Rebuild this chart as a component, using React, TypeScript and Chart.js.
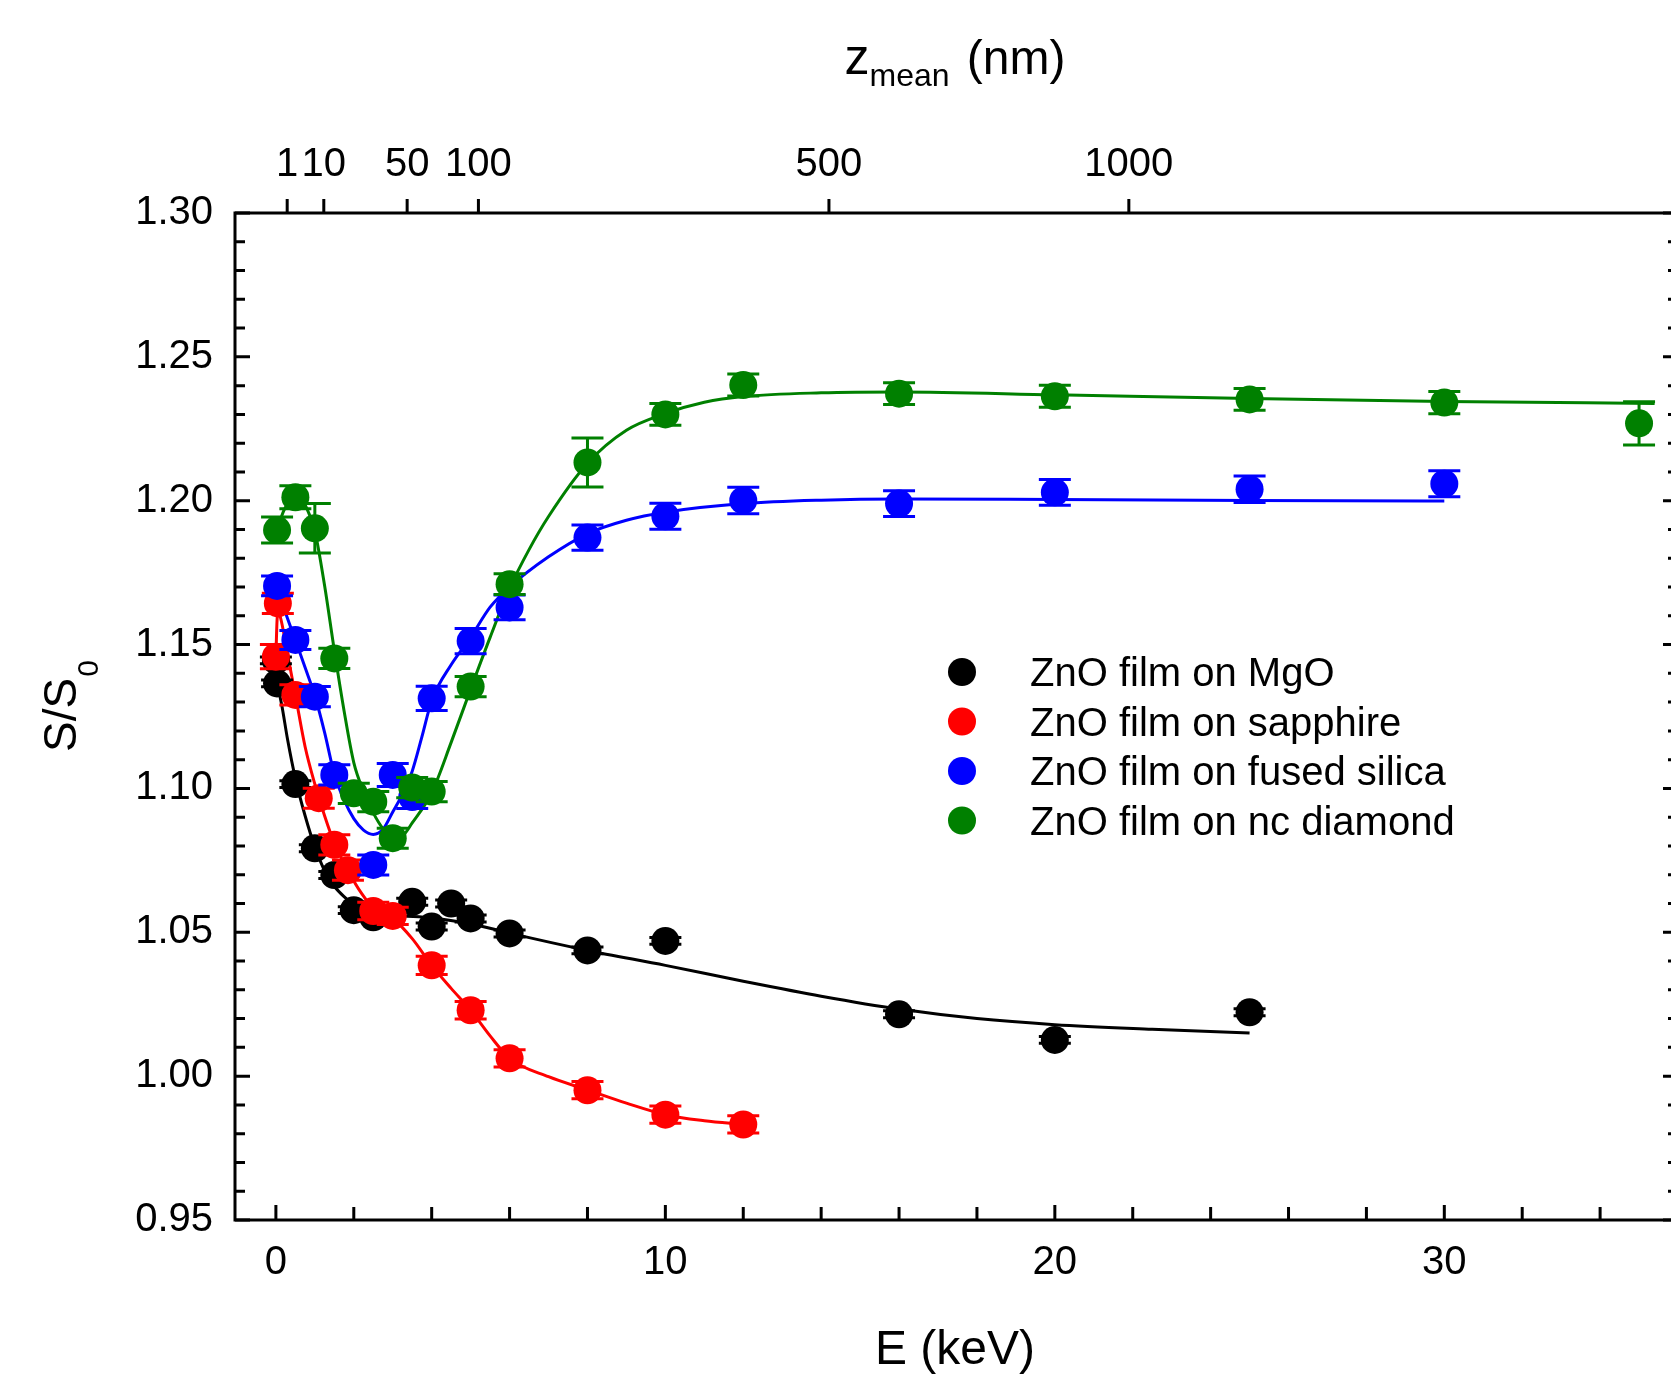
import React, { useEffect, useRef } from 'react';
import { Chart, registerables } from 'chart.js';

Chart.register(...registerables);

const FONT = '"Liberation Sans", Arial, Helvetica, sans-serif';

// ---------- data ----------
const seriesNames = [
  'ZnO film on MgO',
  'ZnO film on sapphire',
  'ZnO film on fused silica',
  'ZnO film on nc diamond',
];
const seriesColors = ['#000000', '#ff0000', '#0000ff', '#008000'];

// ZnO film on MgO (black)
const mgoE = [0, 0.03, 0.5, 1, 1.5, 2, 2.5, 3.5, 4, 4.5, 5, 6, 8, 10, 16, 20, 25];
const mgoS = [1.1445, 1.1365, 1.1015, 1.0792, 1.0699, 1.0577, 1.0552, 1.0606, 1.052, 1.06, 1.0548, 1.0496, 1.0437, 1.047, 1.0215, 1.0126, 1.0222];
const mgoErr = [0.0012, 0.0012, 0.0012, 0.0012, 0.0012, 0.0012, 0.0012, 0.0012, 0.0012, 0.0012, 0.0012, 0.0012, 0.0012, 0.0012, 0.0012, 0.0012, 0.0012];
const mgoFitE = [0.03, 0.15, 0.3, 0.5, 0.75, 1, 1.25, 1.5, 1.75, 2, 2.5, 3, 4, 5, 6, 8, 10, 12, 14, 16, 18, 20, 22.5, 25];
const mgoFitS = [1.1365, 1.129, 1.117, 1.1035, 1.0905, 1.0797, 1.0714, 1.066, 1.0624, 1.0597, 1.0572, 1.056, 1.055, 1.053, 1.0497, 1.0437, 1.0385, 1.033, 1.0278, 1.0233, 1.02, 1.0179, 1.0163, 1.015];

// ZnO film on sapphire (red)
const sapE = [0, 0.05, 0.5, 1.1, 1.5, 1.85, 2.5, 3, 4, 5, 6, 8, 10, 12];
const sapS = [1.1458, 1.1643, 1.1325, 1.0966, 1.0804, 1.0716, 1.0574, 1.0557, 1.0385, 1.0229, 1.0062, 0.9951, 0.9866, 0.9832];
const sapErr = [0.0042, 0.0035, 0.0035, 0.0035, 0.0035, 0.0035, 0.003, 0.003, 0.0032, 0.003, 0.003, 0.003, 0.003, 0.003];
const sapFitE = [0, 0.03, 0.06, 0.15, 0.3, 0.5, 0.75, 1, 1.25, 1.5, 1.85, 2.2, 2.5, 3, 3.5, 4, 4.5, 5, 5.5, 6, 7, 8, 9, 10, 11, 12];
const sapFitS = [1.1458, 1.1585, 1.1615, 1.1575, 1.1465, 1.1325, 1.1145, 1.1015, 1.0905, 1.081, 1.0715, 1.0635, 1.0585, 1.0548, 1.0478, 1.0385, 1.0305, 1.0229, 1.014, 1.0062, 0.9998, 0.9952, 0.9906, 0.9866, 0.9845, 0.9832];

// ZnO film on fused silica (blue)
const silE = [0.03, 0.5, 1, 1.5, 2.5, 3, 3.5, 4, 5, 6, 8, 10, 12, 16, 20, 25, 30];
const silS = [1.1704, 1.1516, 1.1319, 1.1047, 1.0734, 1.1047, 1.097, 1.1313, 1.1512, 1.1629, 1.1872, 1.1946, 1.2001, 1.199, 1.2029, 1.204, 1.2059];
const silErr = [0.0034, 0.0033, 0.0035, 0.0035, 0.0035, 0.004, 0.004, 0.0042, 0.0044, 0.0043, 0.0044, 0.0045, 0.0046, 0.0045, 0.0045, 0.0046, 0.0045];
const silFitE = [0.03, 0.25, 0.5, 0.75, 1, 1.25, 1.5, 1.75, 2, 2.25, 2.5, 2.75, 3, 3.25, 3.5, 3.75, 4, 4.5, 5, 5.5, 6, 7, 8, 9, 10, 12, 14, 16, 20, 25, 30];
const silFitS = [1.1704, 1.161, 1.1516, 1.142, 1.1322, 1.1195, 1.105, 1.096, 1.0895, 1.0855, 1.084, 1.0858, 1.0918, 1.098, 1.106, 1.118, 1.1305, 1.143, 1.1525, 1.163, 1.17, 1.1805, 1.1885, 1.1932, 1.196, 1.199, 1.2002, 1.2006, 1.2004, 1.2001, 1.1999];

// ZnO film on nc diamond (green)
const diaE = [0.03, 0.5, 1, 1.5, 2, 2.5, 3, 3.5, 4, 5, 6, 8, 10, 12, 16, 20, 25, 30, 35];
const diaS = [1.1898, 1.2012, 1.1904, 1.1452, 1.0983, 1.0954, 1.0827, 1.1003, 1.0989, 1.1354, 1.171, 1.2133, 1.23, 1.2402, 1.2372, 1.2363, 1.2352, 1.2341, 1.2269];
const diaErr = [0.0045, 0.004, 0.0086, 0.0035, 0.0035, 0.0035, 0.0035, 0.0035, 0.0035, 0.0035, 0.0036, 0.0085, 0.0038, 0.0038, 0.0038, 0.0038, 0.0038, 0.0039, 0.0075];
const diaFitE = [0.03, 0.2, 0.4, 0.55, 0.7, 0.85, 1, 1.25, 1.5, 1.75, 2, 2.25, 2.5, 2.75, 3, 3.25, 3.5, 4, 4.5, 5, 5.5, 6, 6.5, 7, 8, 9, 10, 11, 12, 14, 16, 20, 25, 30, 35.4];
const diaFitS = [1.1898, 1.1965, 1.2005, 1.2013, 1.1997, 1.1955, 1.1895, 1.1705, 1.148, 1.127, 1.109, 1.099, 1.0915, 1.086, 1.0828, 1.0835, 1.088, 1.0985, 1.116, 1.1345, 1.1525, 1.1695, 1.183, 1.1945, 1.213, 1.2245, 1.2303, 1.2342, 1.2362, 1.2375, 1.2378, 1.2368, 1.2355, 1.2345, 1.2338];

// axes / ticks
const xTickValues = [0, 10, 20, 30];
const yTickValues = [0.95, 1.0, 1.05, 1.1, 1.15, 1.2, 1.25, 1.3];
const zTickLabels = ['1', '10', '50', '100', '500', '1000'];
const zTickEnergies = [0.29, 1.23, 3.37, 5.2, 14.2, 21.9];
const X_MIN = -1.05;
const X_MAX = 36;
const Y_MIN = 0.95;
const Y_MAX = 1.3;

const toPts = (xs: number[], ys: number[]) => xs.map((x, i) => ({ x, y: ys[i] }));

// ---------- plugins ----------
const errorBarPlugin = {
  id: 'errorBars',
  beforeDatasetDraw(chart: any, args: any) {
    const ds = chart.data.datasets[args.index];
    if (!ds.errors) return;
    const { ctx, scales } = chart;
    const xs = scales.x, ys = scales.y;
    ctx.save();
    ctx.strokeStyle = ds.backgroundColor;
    ctx.lineWidth = 3;
    ctx.beginPath();
    ds.data.forEach((p: any, i: number) => {
      const e = ds.errors[i];
      const px = xs.getPixelForValue(p.x);
      const pt = ys.getPixelForValue(p.y + e);
      const pb = ys.getPixelForValue(p.y - e);
      ctx.moveTo(px, pt); ctx.lineTo(px, pb);
      ctx.moveTo(px - 16, pt); ctx.lineTo(px + 16, pt);
      ctx.moveTo(px - 16, pb); ctx.lineTo(px + 16, pb);
    });
    ctx.stroke();
    ctx.restore();
  },
};

const frameTicksPlugin = {
  id: 'frameTicks',
  afterDraw(chart: any) {
    const { ctx, chartArea: a, scales } = chart;
    const xs = scales.x, ys = scales.y, xt = scales.x2;
    ctx.save();
    ctx.strokeStyle = '#000';
    ctx.lineWidth = 3;
    ctx.beginPath();
    for (let i = Math.round(Y_MIN * 100); i <= Math.round(Y_MAX * 100); i++) {
      const py = ys.getPixelForValue(i / 100);
      const len = i % 5 === 0 ? 15 : 10;
      ctx.moveTo(a.left, py); ctx.lineTo(a.left + len, py);
      ctx.moveTo(a.right, py); ctx.lineTo(a.right - len, py);
    }
    for (let v = 0; v <= X_MAX; v += 2) {
      const px = xs.getPixelForValue(v);
      const len = v % 10 === 0 ? 15 : 13;
      ctx.moveTo(px, a.bottom); ctx.lineTo(px, a.bottom - len);
    }
    zTickEnergies.forEach((e) => {
      const px = xt.getPixelForValue(e);
      ctx.moveTo(px, a.top); ctx.lineTo(px, a.top - 14);
    });
    ctx.stroke();
    ctx.strokeRect(a.left, a.top, a.right - a.left, a.bottom - a.top);
    ctx.restore();
  },
};

const titlesPlugin = {
  id: 'titles',
  afterDraw(chart: any) {
    const { ctx } = chart;
    ctx.save();
    ctx.fillStyle = '#000';
    ctx.textBaseline = 'alphabetic';
    ctx.textAlign = 'left';
    // bottom title
    ctx.font = `48px ${FONT}`;
    const wE = ctx.measureText('E (keV)').width;
    ctx.fillText('E (keV)', 955 - wE / 2, 1364);
    // top title z_mean (nm)
    ctx.font = `50px ${FONT}`;
    const wz = ctx.measureText('z').width;
    ctx.font = `48px ${FONT}`;
    const wnm = ctx.measureText(' (nm)').width;
    ctx.font = `32px ${FONT}`;
    const wm = ctx.measureText('mean').width;
    const x0 = 955 - (wz + wm + wnm + 4) / 2;
    ctx.font = `50px ${FONT}`;
    ctx.fillText('z', x0, 74);
    ctx.font = `32px ${FONT}`;
    ctx.fillText('mean', x0 + wz, 86);
    ctx.font = `48px ${FONT}`;
    ctx.fillText(' (nm)', x0 + wz + wm + 4, 74);
    // y title S/S0 rotated
    ctx.translate(76, 752);
    ctx.rotate(-Math.PI / 2);
    ctx.font = `46px ${FONT}`;
    const wS = ctx.measureText('S/S').width;
    ctx.fillText('S/S', 0, 0);
    ctx.font = `30px ${FONT}`;
    ctx.fillText('0', wS + 1, 22);
    ctx.restore();
  },
};

const legendPlugin = {
  id: 'customLegend',
  afterDraw(chart: any) {
    const { ctx } = chart;
    const items = chart.data.datasets.filter((d: any) => d.inLegend);
    items.sort((a: any, b: any) => a.legendIndex - b.legendIndex);
    ctx.save();
    ctx.font = `40px ${FONT}`;
    ctx.textAlign = 'left';
    ctx.textBaseline = 'alphabetic';
    items.forEach((d: any, i: number) => {
      const cy = 672 + i * 49.5;
      ctx.fillStyle = d.backgroundColor;
      ctx.beginPath();
      ctx.arc(962, cy, 14, 0, Math.PI * 2);
      ctx.fill();
      ctx.fillStyle = '#000';
      ctx.fillText(d.label, 1030, cy + 14);
    });
    ctx.restore();
  },
};

const CANVAS_W = 1692;
const CANVAS_H = 1375;

export default function App() {
  const ref = useRef<HTMLCanvasElement | null>(null);

  useEffect(() => {
    const canvas = ref.current;
    if (!canvas) return;
    const ptsE = [mgoE, sapE, silE, diaE];
    const ptsS = [mgoS, sapS, silS, diaS];
    const ptsErr = [mgoErr, sapErr, silErr, diaErr];
    const fitE = [mgoFitE, sapFitE, silFitE, diaFitE];
    const fitS = [mgoFitS, sapFitS, silFitS, diaFitS];

    const pointSets: any[] = [];
    for (let k = 3; k >= 0; k--) {
      pointSets.push({
        type: 'scatter',
        label: seriesNames[k],
        data: toPts(ptsE[k], ptsS[k]),
        errors: ptsErr[k],
        inLegend: true,
        legendIndex: k,
        backgroundColor: seriesColors[k],
        borderColor: seriesColors[k],
        pointRadius: 14,
        pointHoverRadius: 14,
        pointBorderWidth: 0,
        showLine: false,
      });
    }
    const fitSets: any[] = [];
    for (let k = 0; k < 4; k++) {
      fitSets.push({
        type: 'scatter',
        label: seriesNames[k] + ' fit',
        data: toPts(fitE[k], fitS[k]),
        showLine: true,
        borderColor: seriesColors[k],
        backgroundColor: seriesColors[k],
        borderWidth: 3,
        pointRadius: 0,
        pointHoverRadius: 0,
        cubicInterpolationMode: 'monotone',
        fill: false,
      });
    }

    const tickFont = { family: FONT, size: 40 };
    const chart = new Chart(canvas, {
      type: 'scatter',
      data: { datasets: [...pointSets, ...fitSets] },
      options: {
        animation: false,
        responsive: false,
        maintainAspectRatio: false,
        devicePixelRatio: 1,
        layout: { padding: 0 },
        events: [],
        plugins: { legend: { display: false }, tooltip: { enabled: false } },
        scales: {
          x: {
            type: 'linear',
            position: 'bottom',
            min: X_MIN,
            max: X_MAX,
            afterBuildTicks: (s: any) => { s.ticks = xTickValues.map((v) => ({ value: v })); },
            afterFit: (s: any) => { s.height = 155; },
            grid: { display: false, drawTicks: false },
            border: { display: false },
            ticks: { font: tickFont, color: '#000', padding: 19, autoSkip: false, maxRotation: 0, callback: (v: any) => String(v) },
          },
          x2: {
            type: 'linear',
            position: 'top',
            min: X_MIN,
            max: X_MAX,
            afterBuildTicks: (s: any) => { s.ticks = zTickEnergies.map((v) => ({ value: v })); },
            afterFit: (s: any) => { s.height = 213; },
            grid: { display: false, drawTicks: false },
            border: { display: false },
            ticks: { font: tickFont, color: '#000', padding: 24, autoSkip: false, maxRotation: 0, callback: (_v: any, i: number) => zTickLabels[i] },
          },
          y: {
            type: 'linear',
            position: 'left',
            min: Y_MIN,
            max: Y_MAX,
            afterBuildTicks: (s: any) => { s.ticks = yTickValues.map((v) => ({ value: v })); },
            afterFit: (s: any) => { s.width = 235; },
            grid: { display: false, drawTicks: false },
            border: { display: false },
            ticks: { font: tickFont, color: '#000', padding: 22, autoSkip: false, callback: (v: any) => Number(v).toFixed(2) },
          },
        },
      } as any,
      plugins: [errorBarPlugin, frameTicksPlugin, titlesPlugin, legendPlugin],
    } as any);
    return () => chart.destroy();
  }, []);

  return (
    <div style={{ position: 'fixed', left: 0, top: 0, width: 1671, height: 1375, overflow: 'hidden', background: '#fff' }}>
      <canvas ref={ref} width={CANVAS_W} height={CANVAS_H} style={{ width: CANVAS_W, height: CANVAS_H, display: 'block' }} />
    </div>
  );
}
